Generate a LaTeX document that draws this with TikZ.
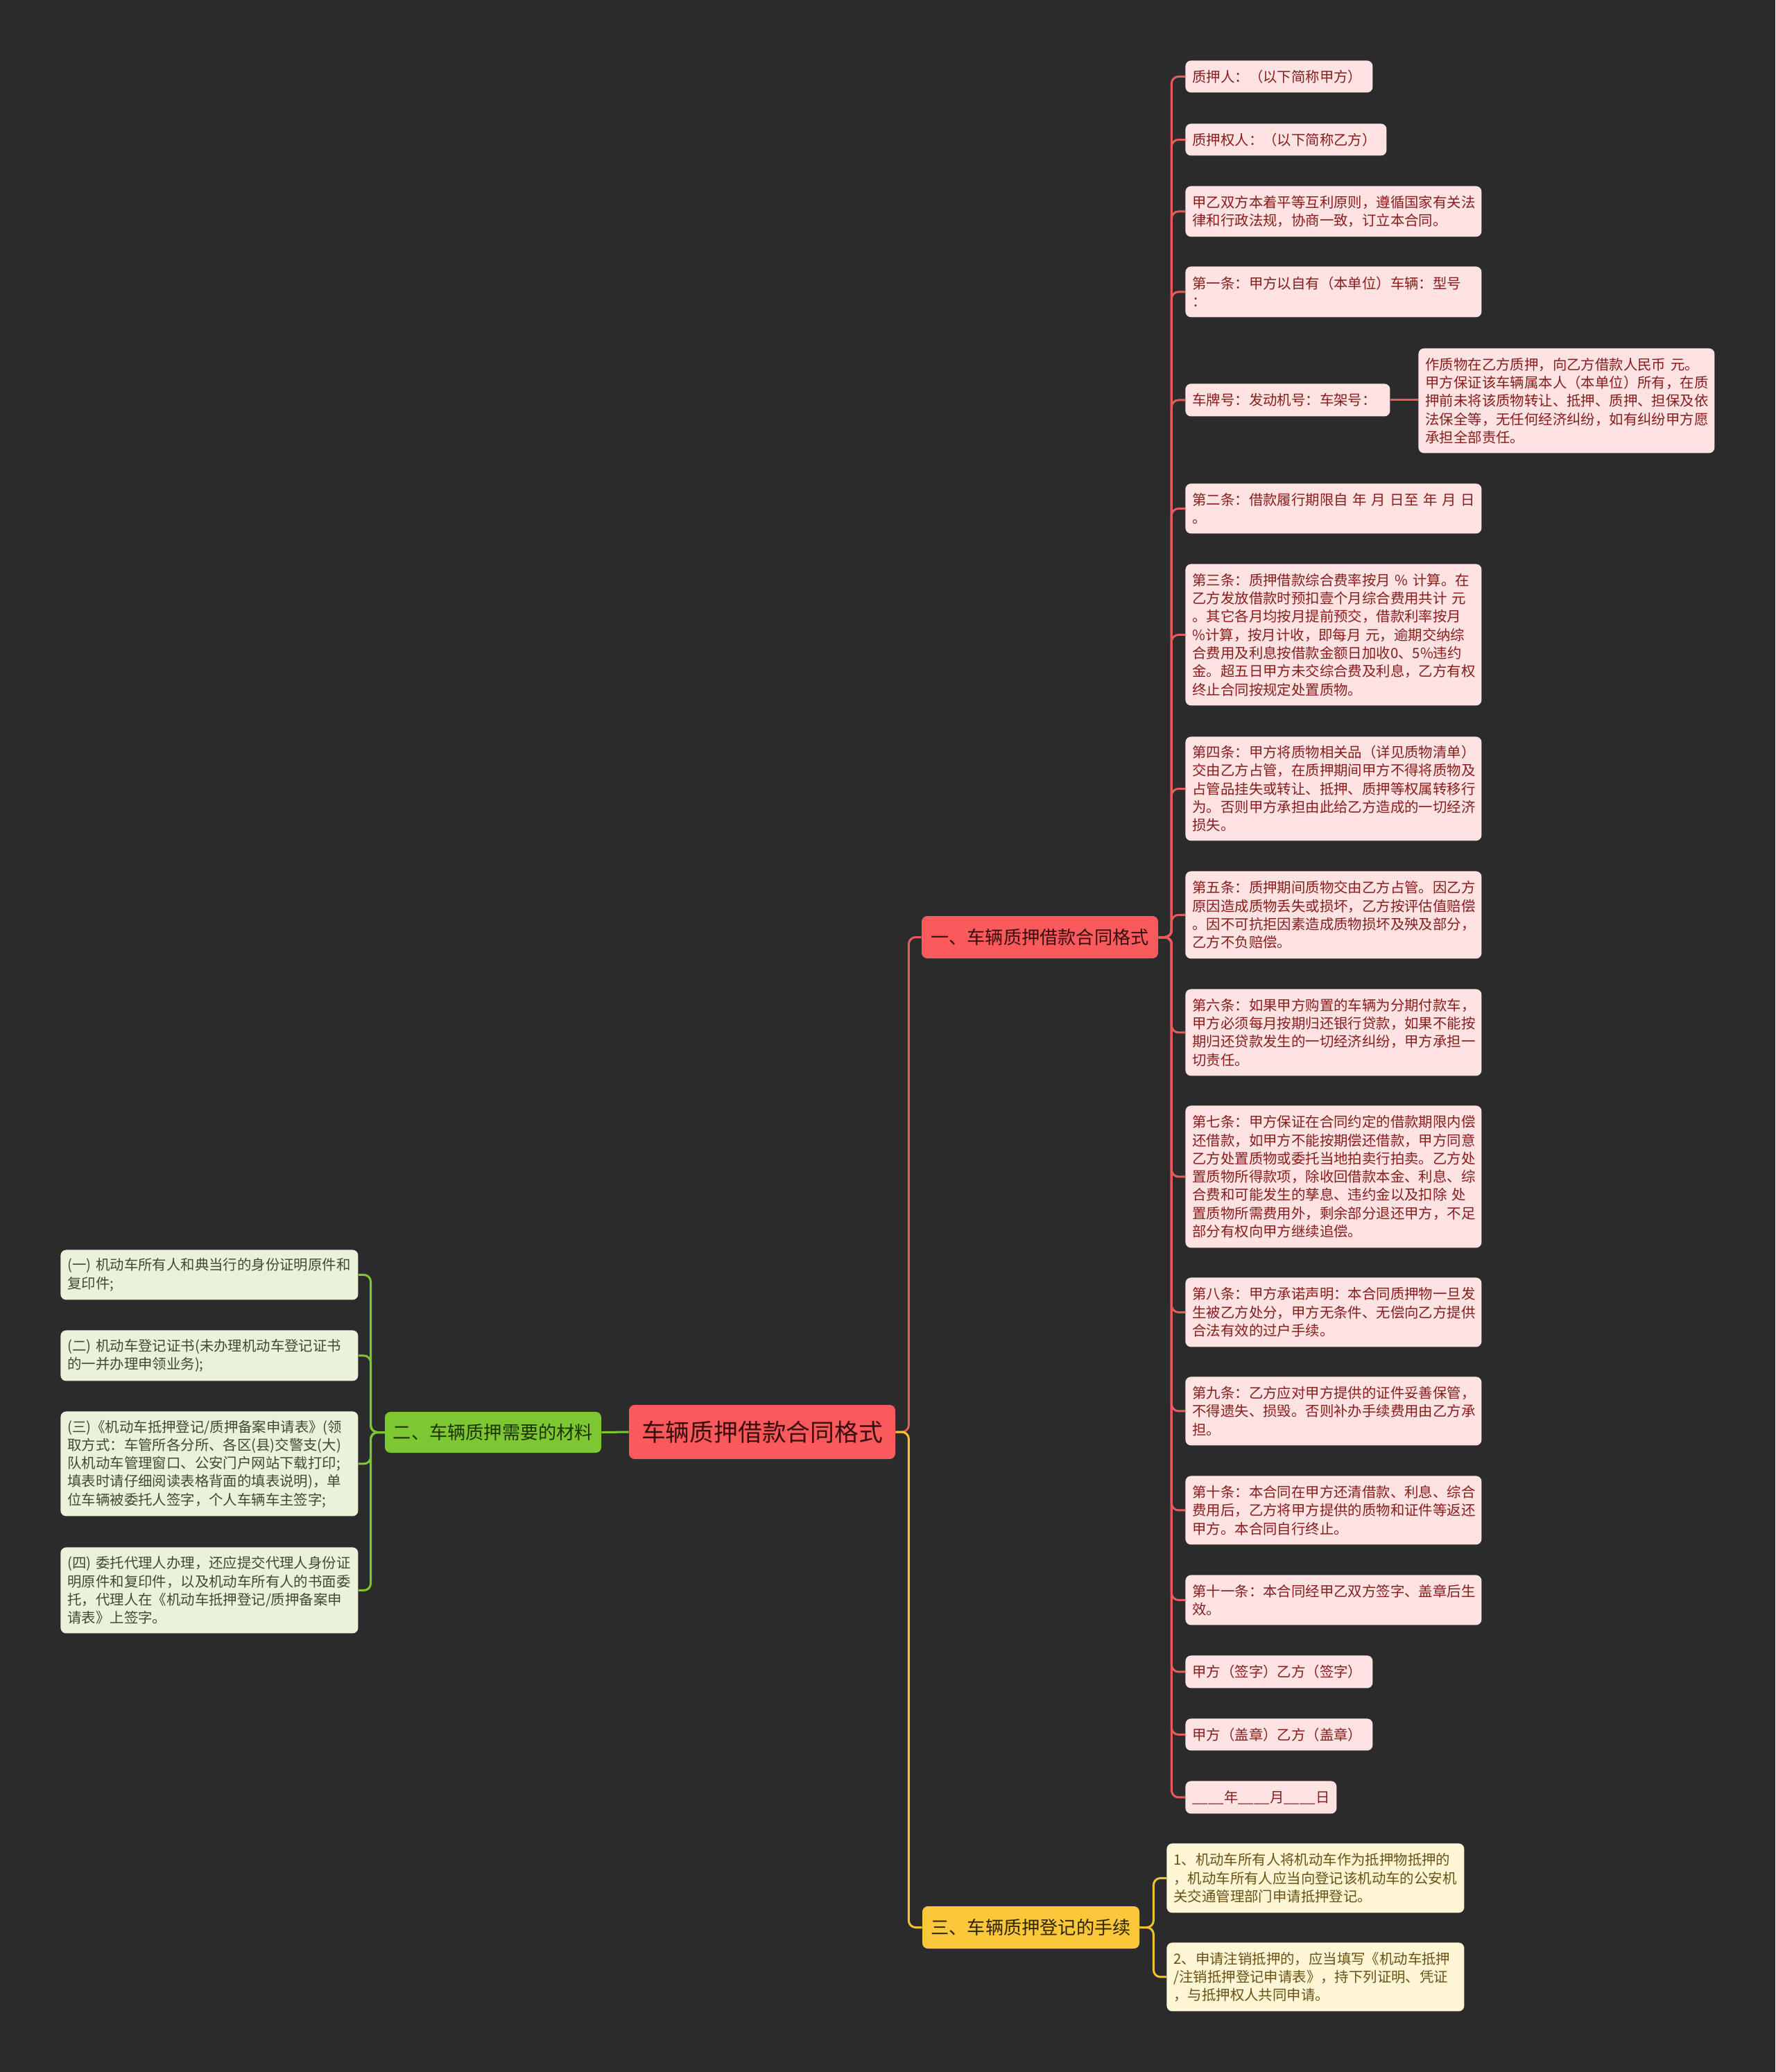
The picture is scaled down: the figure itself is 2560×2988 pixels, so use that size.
\documentclass[tikz,border=0pt]{standalone}
\usepackage{fontspec}
\setmainfont{Noto Sans CJK SC}
\definecolor{bg}{HTML}{2B2B2B}
\definecolor{rfill}{HTML}{FA5A5C}
\definecolor{rlinec}{HTML}{E75A5D}
\definecolor{rleafc}{HTML}{FFE3E3}
\definecolor{rtextc}{HTML}{8A1C1C}
\definecolor{rbtext}{HTML}{3A0D0D}
\definecolor{gfill}{HTML}{7DC832}
\definecolor{glinec}{HTML}{7DC832}
\definecolor{gleafc}{HTML}{EBF2DC}
\definecolor{gtextc}{HTML}{3F4B2E}
\definecolor{gbtext}{HTML}{1E3300}
\definecolor{yfill}{HTML}{FBC83B}
\definecolor{ylinec}{HTML}{F2C232}
\definecolor{yleafc}{HTML}{FFF6D6}
\definecolor{ytextc}{HTML}{6B5214}
\definecolor{ybtext}{HTML}{2E2500}
\begin{document}
\begin{tikzpicture}[x=0.5pt,y=-0.5pt,
  basebox/.style={rounded corners=4pt, inner xsep=5pt, inner ysep=0pt, align=left},
  leafbox/.style={basebox, anchor=north west, font=\fontsize{10.2pt}{13.15pt}\selectfont},
  rleaf/.style={leafbox, fill=rleafc, text=rtextc},
  gleaf/.style={leafbox, fill=gleafc, text=gtextc},
  yleaf/.style={leafbox, fill=yleafc, text=ytextc},
  branchbox/.style={basebox, align=center, font=\fontsize{13.1pt}{15pt}\selectfont},
  rline/.style={draw=rlinec, line width=1.5pt, rounded corners=5pt},
  gline/.style={draw=glinec, line width=1.5pt, rounded corners=5pt},
  yline/.style={draw=ylinec, line width=1.5pt, rounded corners=5pt}]
\fill[bg] (0,0) rectangle (2560,2988);
\useasboundingbox (0,0) rectangle (2560,2988);

% main and branches
\node[basebox, fill=rfill, text=rbtext, minimum width=192pt, minimum height=39pt, font=\fontsize{17.4pt}{20pt}\selectfont] (main) at (1099,2065) {车辆质押借款合同格式};
\node[branchbox, fill=rfill, text=rbtext, minimum width=170.5pt, minimum height=30.5pt] (rb) at (1499.5,1351.5) {一、车辆质押借款合同格式};
\node[branchbox, fill=gfill, text=gbtext, minimum width=156pt, minimum height=29.5pt] (gb) at (711,2065.5) {二、车辆质押需要的材料};
\node[branchbox, fill=yfill, text=ybtext, minimum width=156.5pt, minimum height=30.5pt] (yb) at (1486.5,2779.5) {三、车辆质押登记的手续};

% red leaves
\node[rleaf, text width=125pt, minimum height=23pt] (r1) at (1709,87) {质押人：（以下简称甲方）};
\node[rleaf, text width=135pt, minimum height=23pt] (r2) at (1709,178) {质押权人：（以下简称乙方）};
\node[rleaf, text width=203.5pt, minimum height=36.5pt] (r3) at (1709,268) {甲乙双方本着平等互利原则，遵循国家有关法\\律和行政法规，协商一致，订立本合同。};
\node[rleaf, text width=203.5pt, minimum height=36.5pt] (r4) at (1709,384) {第一条：甲方以自有（本单位）车辆：型号\\：};
\node[rleaf, text width=137.5pt, minimum height=23.5pt] (r5) at (1709,553) {车牌号：发动机号：车架号：};
\node[rleaf, text width=203.5pt, minimum height=75.5pt] (r5a) at (2045,502) {作质物在乙方质押，向乙方借款人民币~元。\\甲方保证该车辆属本人（本单位）所有，在质\\押前未将该质物转让、抵押、质押、担保及依\\法保全等，无任何经济纠纷，如有纠纷甲方愿\\承担全部责任。};
\node[rleaf, text width=203.5pt, minimum height=36pt] (r6) at (1709,697) {第二条：借款履行期限自~年~月~日至~年~月~日\\。};
\node[rleaf, text width=203.5pt, minimum height=102pt] (r7) at (1709,813) {第三条：质押借款综合费率按月~\%~计算。在\\乙方发放借款时预扣壹个月综合费用共计~元\\。其它各月均按月提前预交，借款利率按月\\\%计算，按月计收，即每月~元，逾期交纳综\\合费用及利息按借款金额日加收0、5\%违约\\金。超五日甲方未交综合费及利息，乙方有权\\终止合同按规定处置质物。};
\node[rleaf, text width=203.5pt, minimum height=75pt] (r8) at (1709,1062) {第四条：甲方将质物相关品（详见质物清单）\\交由乙方占管，在质押期间甲方不得将质物及\\占管品挂失或转让、抵押、质押等权属转移行\\为。否则甲方承担由此给乙方造成的一切经济\\损失。};
\node[rleaf, text width=203.5pt, minimum height=63pt] (r9) at (1709,1256) {第五条：质押期间质物交由乙方占管。因乙方\\原因造成质物丢失或损坏，乙方按评估值赔偿\\。因不可抗拒因素造成质物损坏及殃及部分，\\乙方不负赔偿。};
\node[rleaf, text width=203.5pt, minimum height=62.5pt] (r10) at (1709,1426) {第六条：如果甲方购置的车辆为分期付款车，\\甲方必须每月按期归还银行贷款，如果不能按\\期归还贷款发生的一切经济纠纷，甲方承担一\\切责任。};
\node[rleaf, text width=203.5pt, minimum height=102.5pt] (r11) at (1709,1594) {第七条：甲方保证在合同约定的借款期限内偿\\还借款，如甲方不能按期偿还借款，甲方同意\\乙方处置质物或委托当地拍卖行拍卖。乙方处\\置质物所得款项，除收回借款本金、利息、综\\合费和可能发生的孳息、违约金以及扣除~处\\置质物所需费用外，剩余部分退还甲方，不足\\部分有权向甲方继续追偿。};
\node[rleaf, text width=203.5pt, minimum height=50pt] (r12) at (1709,1842) {第八条：甲方承诺声明：本合同质押物一旦发\\生被乙方处分，甲方无条件、无偿向乙方提供\\合法有效的过户手续。};
\node[rleaf, text width=203.5pt, minimum height=49.5pt] (r13) at (1709,1985) {第九条：乙方应对甲方提供的证件妥善保管，\\不得遗失、损毁。否则补办手续费用由乙方承\\担。};
\node[rleaf, text width=203.5pt, minimum height=49.5pt] (r14) at (1709,2128) {第十条：本合同在甲方还清借款、利息、综合\\费用后，乙方将甲方提供的质物和证件等返还\\甲方。本合同自行终止。};
\node[rleaf, text width=203.5pt, minimum height=36pt] (r15) at (1709,2271) {第十一条：本合同经甲乙双方签字、盖章后生\\效。};
\node[rleaf, text width=125pt, minimum height=23.5pt] (r16) at (1709,2387) {甲方（签字）乙方（签字）};
\node[rleaf, text width=125pt, minimum height=23pt] (r17) at (1709,2478) {甲方（盖章）乙方（盖章）};
\node[rleaf, text width=99pt, minimum height=23.5pt] (r18) at (1709,2568) {\_\_\_\_年\_\_\_\_月\_\_\_\_日};

% green leaves
\node[gleaf, text width=204.5pt, minimum height=36pt] (g1) at (87,1802) {(一) 机动车所有人和典当行的身份证明原件和\\复印件;};
\node[gleaf, text width=204.5pt, minimum height=36.5pt] (g2) at (87,1918) {(二) 机动车登记证书(未办理机动车登记证书\\的一并办理申领业务);};
\node[gleaf, text width=204.5pt, minimum height=75.5pt] (g3) at (87,2035) {(三)《机动车抵押登记/质押备案申请表》(领\\取方式：车管所各分所、各区(县)交警支(大)\\队机动车管理窗口、公安门户网站下载打印;\\填表时请仔细阅读表格背面的填表说明)，单\\位车辆被委托人签字，个人车辆车主签字;};
\node[gleaf, text width=204.5pt, minimum height=62pt] (g4) at (87,2231) {(四) 委托代理人办理，还应提交代理人身份证\\明原件和复印件，以及机动车所有人的书面委\\托，代理人在《机动车抵押登记/质押备案申\\请表》上签字。};

% yellow leaves
\node[yleaf, text width=204.5pt, minimum height=50pt] (y1) at (1682,2658) {1、机动车所有人将机动车作为抵押物抵押的\\，机动车所有人应当向登记该机动车的公安机\\关交通管理部门申请抵押登记。};
\node[yleaf, text width=204.5pt, minimum height=49.5pt] (y2) at (1682,2801) {2、申请注销抵押的，应当填写《机动车抵押\\/注销抵押登记申请表》，持下列证明、凭证\\，与抵押权人共同申请。};

% connectors: main level
\draw[rline] (main.east) -- ++(19,0) |- (rb.west);
\draw[yline] (main.east) -- ++(19,0) |- (yb.west);
\draw[gline] (main.west) -- (gb.east);

% red trunk
\foreach \n in {r1,r2,r3,r4,r5,r6,r7,r8,r9,r10,r11,r12,r13,r14,r15,r16,r17,r18}
  \draw[rline] (rb.east) -- ++(19,0) |- (\n.west);
\draw[rline] (r5.east) -- (r5.east -| r5a.west);

% green
\foreach \n in {g1,g2,g3,g4}
  \draw[gline] (gb.west) -- ++(-20,0) |- (\n.east);

% yellow
\foreach \n in {y1,y2}
  \draw[yline] (yb.east) -- ++(20,0) |- (\n.west);
\end{tikzpicture}
\end{document}
